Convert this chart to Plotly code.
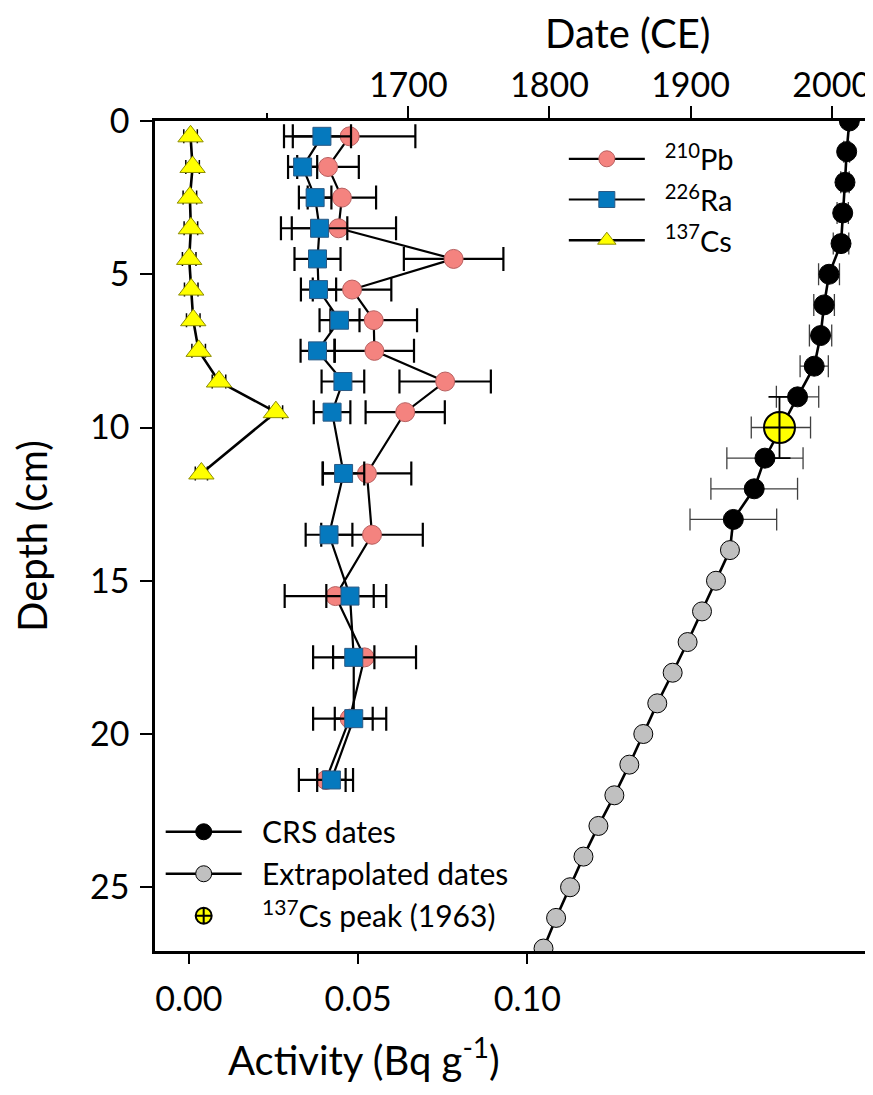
import plotly.graph_objects as go

# ---------------- data ----------------
depth_act = [0.5, 1.5, 2.5, 3.5, 4.5, 5.5, 6.5, 7.5, 8.5, 9.5, 11.5, 13.5, 15.5, 17.5, 19.5, 21.5]
pb210 = [0.0475, 0.0411, 0.0452, 0.0442, 0.0782, 0.0482, 0.0546, 0.0548, 0.0757, 0.0639,
         0.0526, 0.0541, 0.0433, 0.0519, 0.0475, 0.0405]
pb210_err = [0.0194, 0.0091, 0.0101, 0.0170, 0.0147, 0.0116, 0.0128, 0.0117, 0.0135, 0.0117,
             0.0131, 0.0150, 0.0150, 0.0152, 0.0108, 0.0080]
ra226 = [0.0393, 0.0336, 0.0373, 0.0386, 0.0380, 0.0383, 0.0445, 0.0380, 0.0455, 0.0423,
         0.0457, 0.0414, 0.0476, 0.0487, 0.0487, 0.0421]
ra226_err = [0.0086, 0.0043, 0.0048, 0.0082, 0.0068, 0.0052, 0.0059, 0.0050, 0.0063, 0.0054,
             0.0061, 0.0069, 0.0070, 0.0061, 0.0056, 0.0042]

depth_cs = [0.5, 1.5, 2.5, 3.5, 4.5, 5.5, 6.5, 7.5, 8.5, 9.5, 11.5]
cs137 = [0.0005, 0.0011, 0.0003, 0.0006, 0.0001, 0.0007, 0.0013, 0.0029, 0.0089, 0.0257, 0.0037]
cs137_err = [0.002, 0.002, 0.002, 0.002, 0.002, 0.002, 0.002, 0.002, 0.002, 0.002, 0.0018]

depth_crs = [0, 1, 2, 3, 4, 5, 6, 7, 8, 9, 10, 11, 12, 13]
crs_date = [2012.5, 2010.6, 2009.4, 2007.8, 2006.6, 1998.1, 1994.6, 1992.1, 1987.6, 1975.8,
            1964.0, 1952.7, 1945.1, 1930.3]
crs_err = [0, 2, 3, 4, 5.5, 7.4, 7.3, 7.9, 10, 15, 21, 27, 30.7, 30.7]

depth_ext = [14, 15, 16, 17, 18, 19, 20, 21, 22, 23, 24, 25, 26, 27]
ext_date = [1927.9, 1918.0, 1908.1, 1897.9, 1887.3, 1876.4, 1866.5, 1856.6, 1846.0, 1834.7,
            1824.1, 1814.6, 1804.7, 1795.8]

cs_peak_depth = [10]
cs_peak_date = [1963]
cs_peak_depth_err = [1]

x_ticks_act = [0, 0.05, 0.10]
x_ticktext_act = ["0.00", "0.05", "0.10"]
x_ticks_date = [1700, 1800, 1900, 2000]
y_ticks = [0, 5, 10, 15, 20, 25]

FONT = "Lato"
NB = "\u00a0\u00a0"

fig = go.Figure()

# ---- activity profiles (bottom axis) ----
fig.add_trace(go.Scatter(
    x=pb210, y=depth_act, mode="lines+markers", name=NB + "<sup>210</sup>Pb",
    line=dict(color="black", width=2.2),
    marker=dict(symbol="circle", size=19, color="#F4837F", line=dict(color="#B86060", width=1)),
    error_x=dict(type="data", array=pb210_err, color="black", thickness=2.2, width=12),
    legend="legend", xaxis="x", yaxis="y"))
fig.add_trace(go.Scatter(
    x=ra226, y=depth_act, mode="lines+markers", name=NB + "<sup>226</sup>Ra",
    line=dict(color="black", width=2.2),
    marker=dict(symbol="square", size=18, color="#0579BE", line=dict(color="#2B5A85", width=1)),
    error_x=dict(type="data", array=ra226_err, color="black", thickness=2.2, width=12),
    legend="legend", xaxis="x", yaxis="y"))
fig.add_trace(go.Scatter(
    x=cs137, y=depth_cs, mode="lines+markers", name=NB + "<sup>137</sup>Cs",
    line=dict(color="black", width=2.6),
    marker=dict(symbol="triangle-up", size=22, color="#FFFF00", line=dict(color="#8C8C00", width=1)),
    error_x=dict(type="data", array=cs137_err, color="black", thickness=1.5, width=7),
    legend="legend", xaxis="x", yaxis="y"))

# ---- date profiles (top axis) ----
fig.add_trace(go.Scatter(
    x=[crs_date[-1], ext_date[0]], y=[depth_crs[-1], depth_ext[0]], mode="lines",
    line=dict(color="black", width=2.6), showlegend=False, hoverinfo="skip",
    xaxis="x2", yaxis="y"))
fig.add_trace(go.Scatter(
    x=ext_date, y=depth_ext, mode="lines+markers", name=NB + "Extrapolated dates",
    line=dict(color="black", width=2.6),
    marker=dict(symbol="circle", size=19, color="#C0C0C0", line=dict(color="black", width=1)),
    legend="legend2", legendrank=1001, xaxis="x2", yaxis="y"))
fig.add_trace(go.Scatter(
    x=crs_date, y=depth_crs, mode="lines+markers", name=NB + "CRS dates",
    line=dict(color="black", width=2.6),
    marker=dict(symbol="circle", size=20, color="black", line=dict(color="black", width=1)),
    error_x=dict(type="data", array=crs_err, color="#404040", thickness=1.3, width=11),
    legend="legend2", legendrank=1000, xaxis="x2", yaxis="y"))
fig.add_trace(go.Scatter(
    x=cs_peak_date, y=cs_peak_depth, mode="markers", name=NB + "<sup>137</sup>Cs peak (1963)",
    marker=dict(symbol="circle-cross", size=31, color="#FFFF00", line=dict(color="black", width=2)),
    error_y=dict(type="data", array=cs_peak_depth_err, color="black", thickness=1.8, width=11),
    legend="legend2", legendrank=1002, xaxis="x2", yaxis="y"))

axis_common = dict(showgrid=False, zeroline=False, showline=True, linecolor="black",
                   linewidth=2.5, ticks="outside", tickcolor="black", tickwidth=2,
                   automargin=False,
                   tickfont=dict(family=FONT, size=34, color="black"))

# the page body adds an 8 px offset, so the figure is 8 px smaller and margins shifted
fig.update_layout(
    width=865, height=1087,
    margin=dict(l=147, r=7, t=113, b=144),
    paper_bgcolor="white", plot_bgcolor="white",
    font=dict(family=FONT, color="black"),
    xaxis=dict(**axis_common, range=[-0.01, 0.2], tickvals=x_ticks_act, ticktext=x_ticktext_act,
               ticklen=10, ticklabelstandoff=6),
    xaxis2=dict(**axis_common, range=[1520.5, 2024.3], overlaying="x", side="top",
                tickvals=x_ticks_date, ticklen=12, ticklabelstandoff=-4,
                minor=dict(tickvals=[1600], ticklen=5, tickwidth=2, tickcolor="black", ticks="outside")),
    yaxis=dict(**axis_common, range=[27.08, 0], tickvals=y_ticks, ticklen=12, mirror=True,
               ticklabelstandoff=4,
               title=dict(text="Depth (cm)", font=dict(family=FONT, size=40, color="black"),
                          standoff=31)),
    legend=dict(x=0.575, y=0.985, xanchor="left", yanchor="top", bgcolor="rgba(0,0,0,0)",
                font=dict(family=FONT, size=29, color="black"), itemwidth=76,
                tracegroupgap=0),
    legend2=dict(x=0.008, y=0.175, xanchor="left", yanchor="top", bgcolor="rgba(0,0,0,0)",
                 font=dict(family=FONT, size=30, color="black"), itemwidth=76,
                 traceorder="normal"),
    annotations=[
        dict(text="Date (CE)", xref="paper", yref="paper", x=0.664, y=1.1066,
             xanchor="center", yanchor="middle", showarrow=False,
             font=dict(family=FONT, size=40, color="black")),
        dict(text="Activity (Bq g<sup>-1</sup>)", xref="paper", yref="paper", x=0.294, y=-0.1277,
             xanchor="center", yanchor="middle", showarrow=False,
             font=dict(family=FONT, size=40, color="black")),
    ],
)

fig.write_html("out.html")
